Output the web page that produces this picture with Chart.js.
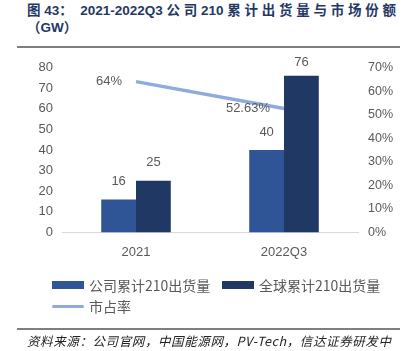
<!DOCTYPE html>
<html>
<head>
<meta charset="utf-8">
<script src="https://cdn.jsdelivr.net/npm/chart.js@4.4.0/dist/chart.umd.min.js"></script>
<style>
  body { margin: 0; width: 409px; height: 351px; background: #fff; position: relative; overflow: hidden;
         font-family: "Liberation Sans", "Noto Sans CJK SC", sans-serif; }
  .title { position: absolute; left: 27px; top: 2px; font-size: 13.5px; font-weight: bold; color: #1f3864;
           line-height: 17px; white-space: nowrap; font-family: "Liberation Sans", "Noto Sans CJK SC", sans-serif; }
  .rule { position: absolute; left: 17px; width: 383px; height: 2px; background: #7f7f7f; }
  #wrap { position: absolute; left: 0; top: 50px; width: 409px; height: 235px; }
  .legend { position: absolute; font-size: 14px; color: #595959; font-family: "Noto Sans CJK SC", sans-serif; }
  .legend .item { position: absolute; white-space: nowrap; display: flex; align-items: center; }
  .legend .sw { display: inline-block; width: 32px; margin-right: 5px; }
  .footer { position: absolute; left: 27px; top: 331px; font-size: 12.5px; font-style: italic; color: #222;
            font-family: "Noto Sans CJK SC", sans-serif; white-space: nowrap; letter-spacing: 0.6px; }
</style>
</head>
<body>
<div class="title">图 43：&nbsp; 2021-2022Q3 公 司 210 累 计 出 货 量 与 市 场 份 额<br>（GW）</div>
<div class="rule" style="top:46px"></div>
<div id="wrap"><canvas id="chart"></canvas></div>
<div class="legend" id="legend"></div>
<div class="rule" style="top:328px"></div>
<div class="footer">资料来源：公司官网，中国能源网，PV-Tech，信达证券研发中</div>

<script>
const categories = ["2021", "2022Q3"];
const companyShipments = [16, 40];
const globalShipments = [25, 76];
const marketShare = [64, 52.63];
const shareLabels = ["64%", "52.63%"];

const tickColor = "#595959";

// value labels above bars and beside the line points
const valueLabels = {
  id: "valueLabels",
  afterDatasetsDraw(chart) {
    const ctx = chart.ctx;
    ctx.save();
    ctx.font = "13px 'Liberation Sans', sans-serif";
    ctx.fillStyle = tickColor;
    ctx.textBaseline = "middle";
    chart.data.datasets.forEach((ds, i) => {
      const meta = chart.getDatasetMeta(i);
      meta.data.forEach((el, j) => {
        if (ds.type === "line") {
          ctx.textAlign = "right";
          ctx.fillText(shareLabels[j], el.x - 14, el.y);
        } else {
          ctx.textAlign = "center";
          const y = Math.max(el.y - 18, chart.chartArea.top - 5);
          ctx.fillText(ds.data[j], el.x, y);
        }
      });
    });
    ctx.restore();
  },
};

const chart = new Chart(document.getElementById("chart"), {
  type: "bar",
  data: {
    labels: categories,
    datasets: [
      {
        type: "line",
        label: "市占率",
        data: marketShare,
        yAxisID: "y1",
        borderColor: "#8faadc",
        backgroundColor: "#8faadc",
        borderWidth: 3.5,
        pointRadius: 0,
        order: 0,
      },
      {
        label: "公司累计210出货量",
        data: companyShipments,
        backgroundColor: "#2f5597",
        yAxisID: "y",
        order: 1,
      },
      {
        label: "全球累计210出货量",
        data: globalShipments,
        backgroundColor: "#1f3864",
        yAxisID: "y",
        order: 1,
      },
    ],
  },
  options: {
    responsive: true,
    maintainAspectRatio: false,
    animation: false,
    layout: { padding: { top: 16, bottom: 13, left: 0, right: 0 } },
    datasets: { bar: { categoryPercentage: 0.47, barPercentage: 1.0 } },
    plugins: { legend: { display: false }, tooltip: { enabled: false } },
    scales: {
      x: {
        grid: { display: false, drawTicks: false },
        border: { color: "#d9d9d9", width: 1 },
        ticks: { color: tickColor, font: { size: 13, family: "'Liberation Sans', sans-serif" }, padding: 12 },
      },
      y: {
        position: "left",
        min: 0,
        max: 80,
        grid: { display: false, drawTicks: false },
        border: { display: false },
        ticks: { stepSize: 10, color: tickColor, padding: 9, font: { size: 13, family: "'Liberation Sans', sans-serif" } },
        afterFit: (axis) => { axis.width = 62; },
      },
      y1: {
        position: "right",
        min: 0,
        max: 70,
        grid: { display: false, drawTicks: false },
        border: { display: false },
        ticks: {
          stepSize: 10,
          color: tickColor,
          padding: 10,
          font: { size: 12.5, family: "'Liberation Sans', sans-serif" },
          callback: (v) => v + "%",
        },
        afterFit: (axis) => { axis.width = 51; },
      },
    },
  },
  plugins: [valueLabels],
});

// html legend built from the datasets
const legendEl = document.getElementById("legend");
const legendPos = [
  { ds: 1, left: 52, top: 275 },
  { ds: 2, left: 222, top: 275 },
  { ds: 0, left: 52, top: 296 },
];
legendPos.forEach((p) => {
  const ds = chart.data.datasets[p.ds];
  const item = document.createElement("div");
  item.className = "item";
  item.style.left = p.left + "px";
  item.style.top = p.top + "px";
  const sw = document.createElement("span");
  sw.className = "sw";
  sw.style.background = ds.backgroundColor;
  sw.style.height = ds.type === "line" ? "3px" : "8px";
  if (ds.type === "line") sw.style.borderRadius = "2px";
  item.appendChild(sw);
  item.appendChild(document.createTextNode(ds.label));
  legendEl.appendChild(item);
});
</script>
</body>
</html>
